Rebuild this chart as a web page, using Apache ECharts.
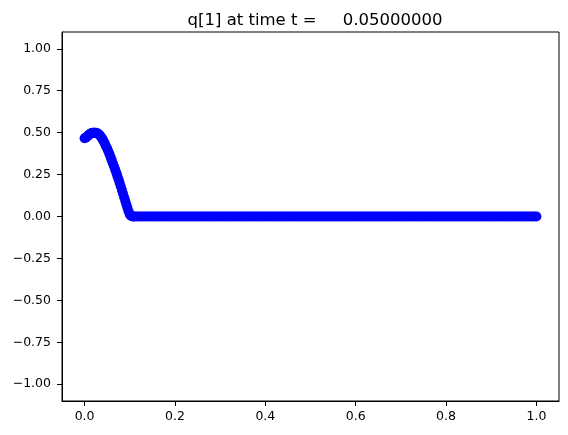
<!DOCTYPE html>
<html>
<head>
<meta charset="utf-8">
<script src="https://cdn.jsdelivr.net/npm/echarts@6/dist/echarts.min.js"></script>
<style>html,body{margin:0;padding:0;background:#fff;}#c{width:568px;height:435px;}</style>
</head>
<body>
<div id="c"></div>
<script>
var titleText = 'q[1] at time t =     0.05000000';
var xTicks = [0, 0.2, 0.4, 0.6, 0.8, 1.0];
var yTicks = [-1, -0.75, -0.5, -0.25, 0, 0.25, 0.5, 0.75, 1];
// steep part, finer sampling
var xsHead = [
0,0.0025,0.005,0.0075,0.01,0.0125,0.015,0.0175,0.02,0.0225,0.025,0.0275,0.03,0.0325,0.035,0.0375,0.04,0.0425,0.045,0.0475,
0.05,0.0525,0.055,0.0575,0.06,0.0625,0.065,0.0675,0.07,0.0725,0.075,0.0775,0.08,0.0825,0.085,0.0875,0.09,0.0925,0.095,0.0975,
0.1,0.1025,0.105,0.1075,0.11
];
var qsHead = [
0.466,0.470,0.476,0.482,0.488,0.493,0.497,0.499,0.500,0.500,0.499,0.497,0.493,0.487,0.480,0.470,0.460,0.447,0.433,0.419,
0.405,0.389,0.372,0.354,0.336,0.318,0.300,0.281,0.262,0.242,0.222,0.201,0.180,0.158,0.137,0.115,0.093,0.071,0.050,0.030,
0.012,0.005,0.001,0,0
];
var xsTail = [
0.115,0.12,0.125,0.13,0.135,0.14,0.145,0.15,0.155,0.16,0.165,0.17,0.175,0.18,0.185,0.19,0.195,
0.2,0.205,0.21,0.215,0.22,0.225,0.23,0.235,0.24,0.245,0.25,0.255,0.26,0.265,0.27,0.275,0.28,0.285,0.29,0.295,
0.3,0.305,0.31,0.315,0.32,0.325,0.33,0.335,0.34,0.345,0.35,0.355,0.36,0.365,0.37,0.375,0.38,0.385,0.39,0.395,
0.4,0.405,0.41,0.415,0.42,0.425,0.43,0.435,0.44,0.445,0.45,0.455,0.46,0.465,0.47,0.475,0.48,0.485,0.49,0.495,
0.5,0.505,0.51,0.515,0.52,0.525,0.53,0.535,0.54,0.545,0.55,0.555,0.56,0.565,0.57,0.575,0.58,0.585,0.59,0.595,
0.6,0.605,0.61,0.615,0.62,0.625,0.63,0.635,0.64,0.645,0.65,0.655,0.66,0.665,0.67,0.675,0.68,0.685,0.69,0.695,
0.7,0.705,0.71,0.715,0.72,0.725,0.73,0.735,0.74,0.745,0.75,0.755,0.76,0.765,0.77,0.775,0.78,0.785,0.79,0.795,
0.8,0.805,0.81,0.815,0.82,0.825,0.83,0.835,0.84,0.845,0.85,0.855,0.86,0.865,0.87,0.875,0.88,0.885,0.89,0.895,
0.9,0.905,0.91,0.915,0.92,0.925,0.93,0.935,0.94,0.945,0.95,0.955,0.96,0.965,0.97,0.975,0.98,0.985,0.99,0.995,
1
];
var qsTail = [
0,0,0,0,0,0,0,0,0,0,0,0,0,0,0,0,0,
0,0,0,0,0,0,0,0,0,0,0,0,0,0,0,0,0,0,0,0,
0,0,0,0,0,0,0,0,0,0,0,0,0,0,0,0,0,0,0,0,
0,0,0,0,0,0,0,0,0,0,0,0,0,0,0,0,0,0,0,0,
0,0,0,0,0,0,0,0,0,0,0,0,0,0,0,0,0,0,0,0,
0,0,0,0,0,0,0,0,0,0,0,0,0,0,0,0,0,0,0,0,
0,0,0,0,0,0,0,0,0,0,0,0,0,0,0,0,0,0,0,0,
0,0,0,0,0,0,0,0,0,0,0,0,0,0,0,0,0,0,0,0,
0,0,0,0,0,0,0,0,0,0,0,0,0,0,0,0,0,0,0,0,
0
];
var xs = xsHead.concat(xsTail);
var qs = qsHead.concat(qsTail);
var pts = xs.map(function (x, i) { return [x, qs[i]]; });
var chart = echarts.init(document.getElementById('c'), null, {renderer: 'canvas'});
var font = 'DejaVu Sans';
chart.setOption({
  animation: false,
  backgroundColor: '#ffffff',
  title: {
    text: titleText,
    left: 310, top: 7, textAlign: 'center',
    textStyle: {fontFamily: font, fontSize: 16.5, fontWeight: 'normal', color: '#000'}
  },
  grid: {left: 62, right: 9, top: 32, bottom: 34, show: true, borderColor: '#000', borderWidth: 1, backgroundColor: 'transparent'},
  xAxis: {
    type: 'value', min: -0.05, max: 1.05,
    axisLine: {show: true, onZero: false, lineStyle: {color: '#000', width: 1}},
    axisTick: {show: true, length: 5, inside: false, customValues: xTicks, lineStyle: {color: '#000'}},
    axisLabel: {show: true, margin: 9, customValues: xTicks, fontFamily: font, fontSize: 12.5, color: '#000',
      formatter: function (v) { return v.toFixed(1); }},
    splitLine: {show: false}
  },
  yAxis: {
    type: 'value', min: -1.1, max: 1.1,
    axisLine: {show: true, onZero: false, lineStyle: {color: '#000', width: 1}},
    axisTick: {show: true, length: 5, inside: false, customValues: yTicks, lineStyle: {color: '#000'}},
    axisLabel: {show: true, margin: 11, customValues: yTicks, fontFamily: font, fontSize: 12.5, color: '#000',
      formatter: function (v) { return v.toFixed(2).replace('-', '\u2212'); }},
    splitLine: {show: false}
  },
  series: [{
    type: 'scatter',
    data: pts,
    symbol: 'circle',
    symbolSize: 10,
    itemStyle: {color: '#0000ff', opacity: 1},
    emphasis: {disabled: true}
  }]
});
</script>
</body>
</html>
